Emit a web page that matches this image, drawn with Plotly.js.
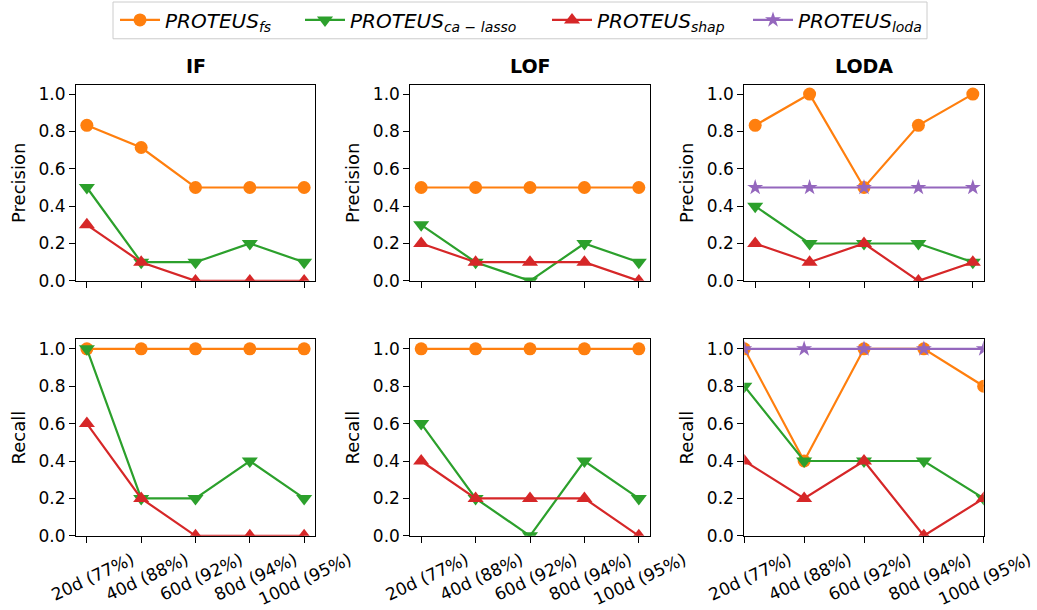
<!DOCTYPE html>
<html><head><meta charset="utf-8">
<script src="https://cdn.plot.ly/plotly-3.0.1.min.js"></script>
<style>html,body{margin:0;padding:0;background:#fff}#chart{width:1037px;height:610px}</style>
</head><body><div id="chart"></div>
<script>
// ---- data ----
const categories = ['20d (77%)', '40d (88%)', '60d (92%)', '80d (94%)', '100d (95%)'];
const detectors = ['IF', 'LOF', 'LODA'];
const metrics = ['Precision', 'Recall'];

// Precision
const precIF_fs    = [0.833, 0.714, 0.5, 0.5, 0.5];
const precIF_ca    = [0.5, 0.1, 0.1, 0.2, 0.1];
const precIF_shap  = [0.3, 0.1, 0.0, 0.0, 0.0];
const precLOF_fs   = [0.5, 0.5, 0.5, 0.5, 0.5];
const precLOF_ca   = [0.3, 0.1, 0.0, 0.2, 0.1];
const precLOF_shap = [0.2, 0.1, 0.1, 0.1, 0.0];
const precLODA_fs   = [0.833, 1.0, 0.5, 0.833, 1.0];
const precLODA_ca   = [0.4, 0.2, 0.2, 0.2, 0.1];
const precLODA_shap = [0.2, 0.1, 0.2, 0.0, 0.1];
const precLODA_loda = [0.5, 0.5, 0.5, 0.5, 0.5];

// Recall
const recIF_fs    = [1.0, 1.0, 1.0, 1.0, 1.0];
const recIF_ca    = [1.0, 0.2, 0.2, 0.4, 0.2];
const recIF_shap  = [0.6, 0.2, 0.0, 0.0, 0.0];
const recLOF_fs   = [1.0, 1.0, 1.0, 1.0, 1.0];
const recLOF_ca   = [0.6, 0.2, 0.0, 0.4, 0.2];
const recLOF_shap = [0.4, 0.2, 0.2, 0.2, 0.0];
const recLODA_fs   = [1.0, 0.4, 1.0, 1.0, 0.8];
const recLODA_ca   = [0.8, 0.4, 0.4, 0.4, 0.2];
const recLODA_shap = [0.4, 0.2, 0.4, 0.0, 0.2];
const recLODA_loda = [1.0, 1.0, 1.0, 1.0, 1.0];

const seriesNames = {
  fs:   '<i>PROTEUS<sub>fs</sub></i>',
  ca:   '<i>PROTEUS<sub>ca − lasso</sub></i>',
  shap: '<i>PROTEUS<sub>shap</sub></i>',
  loda: '<i>PROTEUS<sub>loda</sub></i>'
};

// ---- styles ----
const styles = {
  fs:   {color: '#ff7f0e', symbol: 'circle',        size: 13, legend: 'legend'},
  ca:   {color: '#2ca02c', symbol: 'triangle-down', size: 14, legend: 'legend2'},
  shap: {color: '#d62728', symbol: 'triangle-up',   size: 14, legend: 'legend3'},
  loda: {color: '#9467bd', symbol: 'star',          size: 12, legend: 'legend4'}
};

const panels = [
  // row 0: precision
  [{fs: precIF_fs, ca: precIF_ca, shap: precIF_shap},
   {fs: precLOF_fs, ca: precLOF_ca, shap: precLOF_shap},
   {fs: precLODA_fs, ca: precLODA_ca, shap: precLODA_shap, loda: precLODA_loda}],
  // row 1: recall
  [{fs: recIF_fs, ca: recIF_ca, shap: recIF_shap},
   {fs: recLOF_fs, ca: recLOF_ca, shap: recLOF_shap},
   {fs: recLODA_fs, ca: recLODA_ca, shap: recLODA_shap, loda: recLODA_loda}]
];

// ---- layout geometry (pixels) ----
const W = 1037, H = 610;
const colPx = [[76, 315], [410.3, 649.7], [744.3, 983.7]];
const rowPx = [[81.3, 278.7], [337.7, 535.3]];

const font = 'DejaVu Sans, Liberation Sans, sans-serif';
const traces = [];
const layout = {
  width: W, height: H,
  margin: {l: 0, r: 0, t: 0, b: 0},
  paper_bgcolor: '#ffffff', plot_bgcolor: '#ffffff',
  font: {family: font, color: '#000000', size: 17},
  showlegend: true,
  annotations: [], shapes: []
};

const shown = {};
let k = 0;
for (let r = 0; r < 2; r++) {
  for (let c = 0; c < 3; c++) {
    k++;
    const xa = 'x' + (k === 1 ? '' : k), ya = 'y' + (k === 1 ? '' : k);
    const xkey = 'xaxis' + (k === 1 ? '' : k), ykey = 'yaxis' + (k === 1 ? '' : k);
    const data = panels[r][c];
    for (const key of ['fs', 'ca', 'shap', 'loda']) {
      if (!data[key]) continue;
      const st = styles[key];
      traces.push({
        type: 'scatter', mode: 'lines+markers',
        x: categories, y: data[key], xaxis: xa, yaxis: ya,
        name: seriesNames[key], legend: st.legend,
        showlegend: !shown[key],
        line: {color: st.color, width: 2.2},
        marker: {color: st.color, symbol: st.symbol, size: st.size, line: {width: 0}},
        cliponaxis: true, hoverinfo: 'skip'
      });
      shown[key] = true;
    }
    const lastPanel = (r === 1 && c === 2);
    layout[xkey] = {
      domain: [colPx[c][0] / W, colPx[c][1] / W],
      anchor: ya, type: 'category',
      range: lastPanel ? [0, 4] : [-0.2, 4.2],
      showgrid: false, zeroline: false,
      showline: true, linecolor: '#000', linewidth: 1, mirror: true,
      ticks: 'outside', ticklen: 6, tickwidth: 1, tickcolor: '#000',
      showticklabels: r === 1,
      tickangle: -25, ticklabelshift: 45, ticklabelstandoff: 1,
      tickfont: {family: font, size: 17, color: '#000'},
      fixedrange: true
    };
    layout[ykey] = {
      domain: [1 - rowPx[r][1] / H, 1 - rowPx[r][0] / H],
      anchor: xa, range: [0, 1.05],
      tickvals: [0, 0.2, 0.4, 0.6, 0.8, 1.0],
      ticktext: ['0.0', '0.2', '0.4', '0.6', '0.8', '1.0'],
      showgrid: false, zeroline: false,
      showline: true, linecolor: '#000', linewidth: 1, mirror: true,
      ticks: 'outside', ticklen: 6, tickwidth: 1, tickcolor: '#000',
      tickfont: {family: font, size: 17, color: '#000'},
      title: {text: metrics[r], font: {family: font, size: 18, color: '#000'}, standoff: 8},
      fixedrange: true
    };
    if (r === 0) {
      layout.annotations.push({
        xref: 'paper', yref: 'paper',
        x: (colPx[c][0] + colPx[c][1]) / 2 / W, y: 1 - 62 / H,
        xanchor: 'center', yanchor: 'middle', showarrow: false,
        text: '<b>' + detectors[c] + '</b>',
        font: {family: font, size: 19, color: '#000'}
      });
    }
  }
}

// legend box
layout.shapes.push({
  type: 'rect', xref: 'paper', yref: 'paper', layer: 'below',
  x0: 113 / W, x1: 927 / W, y0: 1 - 35 / H, y1: 1 + 2 / H,
  line: {color: '#cccccc', width: 1}, fillcolor: 'rgba(255,255,255,0.8)'
});

// legends: one per series, positioned individually
const legendStarts = {legend: 120, legend2: 305, legend3: 552, legend4: 753};
for (const lk of Object.keys(legendStarts)) {
  layout[lk] = {
    x: (legendStarts[lk] - 5) / W, y: 1 - 16 / H,
    xanchor: 'left', yanchor: 'middle',
    orientation: 'h', bgcolor: 'rgba(0,0,0,0)', borderwidth: 0,
    itemwidth: 40,
    font: {family: font, size: 20, color: '#000'}
  };
}

Plotly.newPlot('chart', traces, layout, {displayModeBar: false, staticPlot: true});
</script>
</body></html>
